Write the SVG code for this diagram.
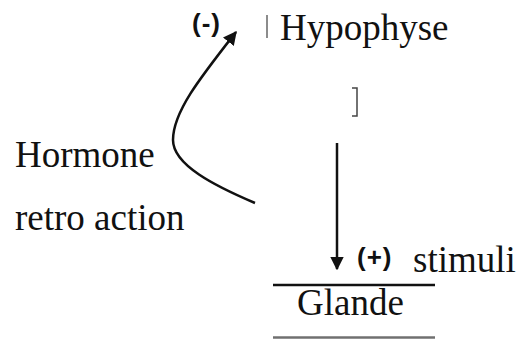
<svg xmlns="http://www.w3.org/2000/svg" width="527" height="342" viewBox="0 0 527 342">
<defs>
<style>
.t{font-family:"Liberation Serif","Times New Roman",serif;font-size:37px;fill:#111}
.s{font-family:"Liberation Sans",Arial,sans-serif;font-size:26px;font-weight:bold;letter-spacing:1px;fill:#111}
.ln{stroke:#111;stroke-width:2.5;fill:none}
</style>
<marker id="ah" viewBox="0 0 10 10" refX="9" refY="5" markerWidth="5.5" markerHeight="5.5" orient="auto" markerUnits="strokeWidth">
<path d="M0,0 L10,5 L0,10 z" fill="#111"/>
</marker>
</defs>
<rect width="527" height="342" fill="#fff"/>
<g id="hypophyse">
<line x1="267" y1="15" x2="267" y2="38" stroke="#666" stroke-width="1.5"/>
<text class="t" x="280" y="40">Hypophyse</text>
<path d="M352,88 H357 V116 H352" stroke="#444" stroke-width="1.5" fill="none"/>
</g>
<g id="hormone">
<text class="t" x="15" y="167">Hormone</text>
<text class="t" x="15" y="230">retro action</text>
</g>
<g id="glande">
<line x1="273" y1="285" x2="435" y2="285" stroke="#111" stroke-width="2.5"/>
<text class="t" x="297" y="315">Glande</text>
<line x1="273" y1="337.5" x2="435" y2="337.5" stroke="#707070" stroke-width="2.5"/>
</g>
<g id="stimuli">
<text class="s" x="357" y="266">(+)</text>
<text class="t" x="413" y="272">stimuli</text>
</g>
<g id="minus">
<text class="s" x="192" y="32">(-)</text>
</g>
<g id="connectors">
<path class="ln" d="M255,203 C215,186 173,165 173,140 C173,112 200,78 236,32" marker-end="url(#ah)"/>
<path class="ln" d="M337,143 V269" marker-end="url(#ah)"/>
</g>
</svg>
